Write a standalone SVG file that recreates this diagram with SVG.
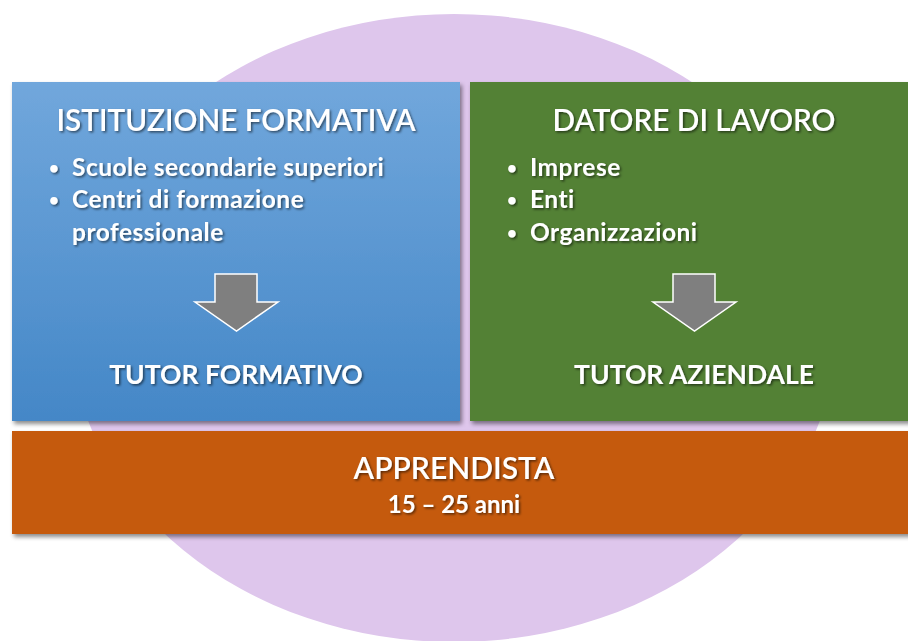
<svg xmlns="http://www.w3.org/2000/svg" width="908" height="641" viewBox="0 0 908 641">
<defs>
<linearGradient id="blueGrad" x1="0" y1="0" x2="0" y2="1">
<stop offset="0" stop-color="#71A7DC"/>
<stop offset="1" stop-color="#4487C7"/>
</linearGradient>
<filter id="boxShadow" x="-5%" y="-5%" width="115%" height="120%">
<feDropShadow dx="2" dy="3" stdDeviation="2" flood-color="#000" flood-opacity="0.45"/>
</filter>
<filter id="txtShadow" x="-5%" y="-20%" width="115%" height="150%">
<feDropShadow dx="1.5" dy="1.5" stdDeviation="1" flood-color="#000" flood-opacity="0.55"/>
</filter>
</defs>
<style>
text { font-family: "Lato", "Open Sans", "Liberation Sans", sans-serif; fill: #FFFFFF; filter: url(#txtShadow); }
.title { font-size: 29.7px; font-weight: 600; text-anchor: middle; }
.bullet { font-size: 24.5px; font-weight: 700; letter-spacing: 0.5px; }
.dot { font-size: 17px; font-weight: 700; }
.tutor { font-size: 26.5px; font-weight: 700; text-anchor: middle; }
.arrow { fill: #7F7F7F; stroke: #FFFFFF; stroke-width: 1.5; }
</style>
<rect width="908" height="641" fill="#FFFFFF"/>
<ellipse id="bg-ellipse" cx="454" cy="328" rx="383" ry="314" fill="#DEC6EC"/>

<g id="istituzione">
<rect x="12" y="82" width="448" height="339" fill="url(#blueGrad)" filter="url(#boxShadow)"/>
<text class="title" x="236" y="131">ISTITUZIONE FORMATIVA</text>
<text class="dot" x="49" y="174">•</text>
<text class="bullet" x="72" y="176">Scuole secondarie superiori</text>
<text class="dot" x="49" y="206">•</text>
<text class="bullet" x="72" y="208">Centri di formazione</text>
<text class="bullet" x="72" y="241">professionale</text>
<polygon class="arrow" points="215,274 257,274 257,302 278,302 236.5,331 195,302 215,302"/>
<text class="tutor" x="236" y="384">TUTOR FORMATIVO</text>
</g>

<g id="datore">
<rect x="470" y="82" width="448" height="339" fill="#538135" filter="url(#boxShadow)"/>
<text class="title" x="694" y="131">DATORE DI LAVORO</text>
<text class="dot" x="507" y="174">•</text>
<text class="bullet" x="530" y="176">Imprese</text>
<text class="dot" x="507" y="206">•</text>
<text class="bullet" x="530" y="208">Enti</text>
<text class="dot" x="507" y="239">•</text>
<text class="bullet" x="530" y="241">Organizzazioni</text>
<polygon class="arrow" points="673,274 715,274 715,302 736,302 694.5,331 653,302 673,302"/>
<text class="tutor" x="694" y="384">TUTOR AZIENDALE</text>
</g>

<g id="apprendista">
<rect x="12" y="431" width="906" height="103" fill="#C55A11" filter="url(#boxShadow)"/>
<text class="title" x="454" y="479" style="font-size:30px">APPRENDISTA</text>
<text class="bullet" x="454" y="513" style="text-anchor:middle;font-size:24px;letter-spacing:0">15 – 25 anni</text>
</g>

<g id="connectors"></g>
</svg>
